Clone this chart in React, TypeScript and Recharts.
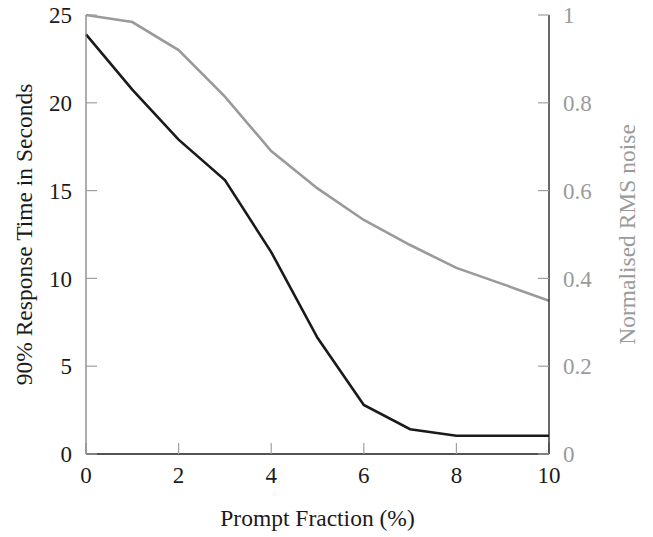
import React from "react";
import { Label, Line, LineChart, XAxis, YAxis } from "recharts";

const fractions = [0, 1, 2, 3, 4, 5, 6, 7, 8, 9, 10];
const responseTime = [23.9, 20.75, 17.9, 15.6, 11.5, 6.62, 2.79, 1.41, 1.04, 1.04, 1.04];
const rmsNoise = [1.0, 0.984, 0.92, 0.814, 0.69, 0.605, 0.533, 0.476, 0.424, 0.387, 0.349];

const xTicks = [0, 2, 4, 6, 8, 10];
const leftTicks = [0, 5, 10, 15, 20, 25];
const rightTicks = [0, 0.2, 0.4, 0.6, 0.8, 1];

const data = fractions.map((f, i) => ({ f, time: responseTime[i], noise: rmsNoise[i] }));

const FONT = "'Liberation Serif', 'Times New Roman', serif";
const INK = "#1a1a1a";
const GREY = "#9a9a9a";
const TICK = "#a0a0a0";
const TICK_FS = 23;
const LABEL_FS = 23.5;

// tick text drawn by hand so the serif font and size stick
const makeTick = (fill: string, anchor: string, dy: string) => (props: any) => {
  const { x, y, payload } = props;
  return (
    <text x={x} y={y} dy={dy} textAnchor={anchor} fill={fill} fontFamily={FONT} fontSize={TICK_FS}>
      {String(payload.value)}
    </text>
  );
};

export default function App() {
  return (
    <div style={{ width: 653, height: 537 }}>
      <style>{`body{margin:0}`}</style>
      <LineChart
        width={653}
        height={537}
        data={data}
        margin={{ top: 15, right: 0, bottom: 0, left: 0 }}
        style={{ fontFamily: FONT }}
      >
        <XAxis
          dataKey="f"
          type="number"
          domain={[0, 10]}
          ticks={xTicks}
          height={83}
          tickSize={-11}
          tickMargin={24}
          axisLine={{ stroke: INK, strokeWidth: 1.3 }}
          tickLine={{ stroke: TICK, strokeWidth: 1.2 }}
          tick={makeTick(INK, "middle", "0.71em")}
        >
          <Label
            value="Prompt Fraction (%)"
            position="insideBottom"
            offset={11}
            style={{ fill: INK, fontSize: LABEL_FS, fontFamily: FONT }}
          />
        </XAxis>
        <XAxis
          xAxisId="top"
          orientation="top"
          type="number"
          domain={[0, 10]}
          ticks={xTicks}
          height={0}
          tickSize={-11}
          tick={false}
          axisLine={{ stroke: INK, strokeWidth: 1.3 }}
          tickLine={{ stroke: TICK, strokeWidth: 1.2 }}
        />
        <YAxis
          yAxisId="left"
          orientation="left"
          domain={[0, 25]}
          ticks={leftTicks}
          width={86}
          tickSize={-11}
          tickMargin={25}
          axisLine={{ stroke: "#808080", strokeWidth: 1.3 }}
          tickLine={{ stroke: TICK, strokeWidth: 1.2 }}
          tick={makeTick(INK, "end", "0.355em")}
        >
          <Label
            value="90% Response Time in Seconds"
            position="center"
            angle={-90}
            dx={-19}
            style={{ fill: INK, fontSize: LABEL_FS, fontFamily: FONT, textAnchor: "middle" }}
          />
        </YAxis>
        <YAxis
          yAxisId="right"
          orientation="right"
          domain={[0, 1]}
          ticks={rightTicks}
          width={104}
          tickSize={-11}
          tickMargin={25}
          axisLine={{ stroke: INK, strokeWidth: 1.3 }}
          tickLine={{ stroke: TICK, strokeWidth: 1.2 }}
          tick={makeTick(GREY, "start", "0.355em")}
        >
          <Label
            value="Normalised RMS noise"
            position="center"
            angle={-90}
            dx={26}
            style={{ fill: GREY, fontSize: LABEL_FS, fontFamily: FONT, textAnchor: "middle" }}
          />
        </YAxis>
        <Line
          yAxisId="right"
          type="linear"
          dataKey="noise"
          stroke={GREY}
          strokeWidth={2.6}
          dot={false}
          isAnimationActive={false}
        />
        <Line
          yAxisId="left"
          type="linear"
          dataKey="time"
          stroke={INK}
          strokeWidth={2.6}
          dot={false}
          isAnimationActive={false}
        />
      </LineChart>
    </div>
  );
}
